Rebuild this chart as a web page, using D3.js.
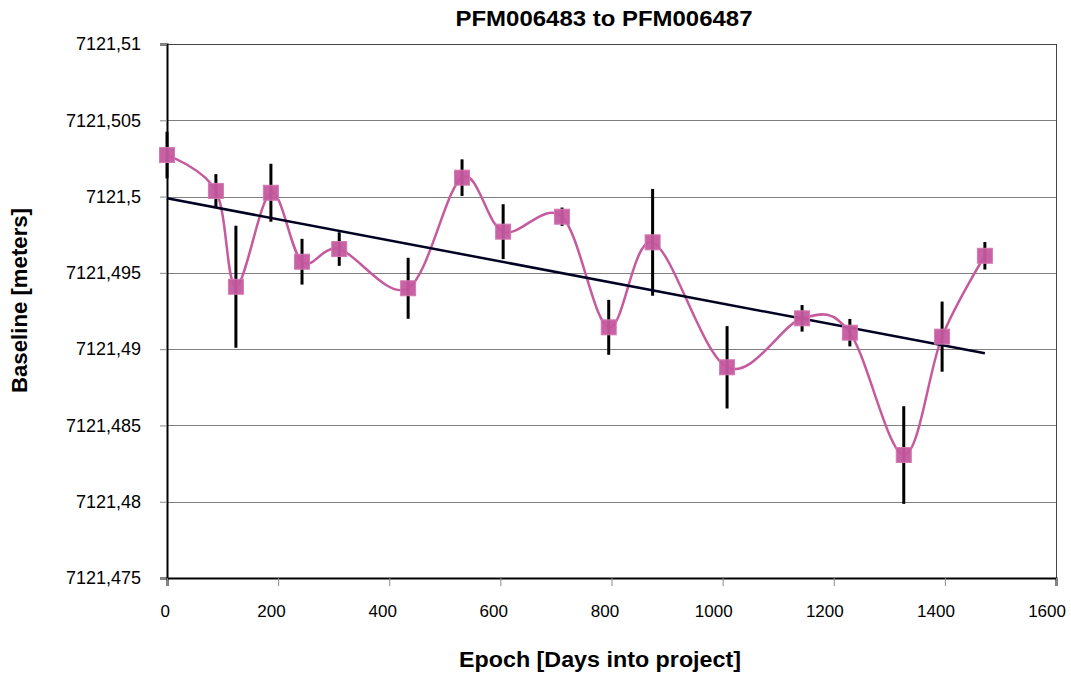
<!DOCTYPE html>
<html>
<head>
<meta charset="utf-8">
<script src="https://cdn.jsdelivr.net/npm/d3@7/dist/d3.min.js"></script>
<style>
  html, body { margin: 0; padding: 0; background: #fff; }
  svg { display: block; }
  text { font-family: "Liberation Sans", Arial, sans-serif; fill: #000; }
</style>
</head>
<body>
<script>
// Epoch of each measurement, days into project
const epochDays = [0, 88, 124, 187, 243, 310, 434, 531, 605, 711, 795, 874, 1008, 1143, 1229, 1326, 1395, 1472];
// Measured baseline length, metres
const baseline = [7121.50272, 7121.50037, 7121.49409, 7121.50025, 7121.49573, 7121.49656, 7121.49399, 7121.50124,
                  7121.49770, 7121.49868, 7121.49143, 7121.49700, 7121.48881, 7121.49202, 7121.49108, 7121.48306,
                  7121.49082, 7121.49612];
// One-sigma uncertainty of each measurement, metres
const sigma = [0.00153, 0.0011, 0.0040, 0.0019, 0.0015, 0.0011, 0.0020, 0.0012, 0.0018, 0.0006, 0.0018, 0.0035,
               0.0027, 0.00087, 0.0009, 0.0032, 0.0023, 0.0009];
// Linear trend, value at first and last epoch
const trendEnds = [7121.49989, 7121.48973];

const xTicks = [0, 200, 400, 600, 800, 1000, 1200, 1400, 1600];
const yTicks = [7121.475, 7121.48, 7121.485, 7121.49, 7121.495, 7121.5, 7121.505, 7121.51];
const titleText = "PFM006483 to PFM006487";
const xTitle = "Epoch [Days into project]";
const yTitle = "Baseline [meters]";

const W = 1071, H = 677;
const m = { left: 167, right: 1056, top: 44, bottom: 578 };

const svg = d3.select("body").append("svg").attr("width", W).attr("height", H);

const x = d3.scaleLinear().domain([0, 1600]).range([m.left, m.right]);
const y = d3.scaleLinear().domain([7121.475, 7121.51]).range([m.bottom, m.top]);

// decimal comma, trailing zeros dropped
const fmt = v => {
  let s = d3.format(".3f")(v).replace(/0+$/, "").replace(/\.$/, "");
  return s.replace(".", ",");
};

// horizontal gridlines
svg.append("g").selectAll("line")
  .data(yTicks.filter(t => t > 7121.475 && t < 7121.51))
  .join("line")
  .attr("x1", m.left).attr("x2", m.right)
  .attr("y1", d => Math.round(y(d)) + 0.5).attr("y2", d => Math.round(y(d)) + 0.5)
  .attr("stroke", "#7f7f7f").attr("stroke-width", 1);

// plot frame: top/right thin, left/bottom axes black
svg.append("line").attr("x1", m.left).attr("x2", m.right).attr("y1", m.top + 0.5).attr("y2", m.top + 0.5)
  .attr("stroke", "#444").attr("stroke-width", 1);
svg.append("line").attr("x1", m.right + 0.5).attr("x2", m.right + 0.5).attr("y1", m.top).attr("y2", m.bottom)
  .attr("stroke", "#444").attr("stroke-width", 1);

// y axis
const yAxis = svg.append("g").attr("transform", `translate(${m.left},0)`)
  .call(d3.axisLeft(y).tickValues(yTicks).tickFormat(fmt).tickSize(7).tickPadding(19));
yAxis.select(".domain").attr("stroke", "#000").attr("stroke-width", 2);
yAxis.selectAll(".tick line").attr("stroke", "#888");
yAxis.selectAll(".tick text").attr("font-size", 18).attr("font-family", "Liberation Sans, Arial, sans-serif");

// x axis
const xAxis = svg.append("g").attr("transform", `translate(0,${m.bottom})`)
  .call(d3.axisBottom(x).tickValues(xTicks).tickFormat(d3.format("d")).tickSize(8).tickPadding(19));
xAxis.select(".domain").attr("stroke", "#000").attr("stroke-width", 2);
xAxis.selectAll(".tick line").attr("stroke", "#888");
xAxis.selectAll(".tick text").attr("font-size", 17).attr("font-family", "Liberation Sans, Arial, sans-serif")
  .attr("dx", function () { return -this.getComputedTextLength() / 4; });

const pts = epochDays.map((d, i) => ({ d, v: baseline[i], s: sigma[i] }));
const color = "#c55a9f";

// smoothed connecting line
svg.append("path")
  .datum(pts)
  .attr("d", d3.line().x(p => x(p.d)).y(p => y(p.v)).curve(d3.curveCardinal.tension(0)))
  .attr("fill", "none").attr("stroke", color).attr("stroke-width", 2.5);

// error bars
svg.append("g").selectAll("line")
  .data(pts)
  .join("line")
  .attr("x1", p => x(p.d)).attr("x2", p => x(p.d))
  .attr("y1", p => y(p.v + p.s)).attr("y2", p => y(p.v - p.s))
  .attr("stroke", "#000").attr("stroke-width", 3);

// linear trend
const last = epochDays[epochDays.length - 1];
svg.append("line")
  .attr("x1", x(0)).attr("y1", y(trendEnds[0]))
  .attr("x2", x(last)).attr("y2", y(trendEnds[1]))
  .attr("stroke", "#000022").attr("stroke-width", 2.5);

// square markers
const ms = 15;
svg.append("g").selectAll("rect")
  .data(pts)
  .join("rect")
  .attr("x", p => x(p.d) - ms / 2).attr("y", p => y(p.v) - ms / 2)
  .attr("width", ms).attr("height", ms)
  .attr("fill", color).attr("fill-opacity", 0.95)
  .attr("stroke", "#d27ab2").attr("stroke-width", 1);

// titles
svg.append("text").attr("x", 604).attr("y", 26)
  .attr("text-anchor", "middle").attr("font-size", 22).attr("font-weight", "bold")
  .attr("textLength", 297).attr("lengthAdjust", "spacingAndGlyphs").text(titleText);
svg.append("text").attr("x", 600).attr("y", 667)
  .attr("text-anchor", "middle").attr("font-size", 22).attr("font-weight", "bold")
  .attr("textLength", 282).attr("lengthAdjust", "spacingAndGlyphs").text(xTitle);
svg.append("text").attr("transform", "translate(27,300.5) rotate(-90)")
  .attr("text-anchor", "middle").attr("font-size", 22).attr("font-weight", "bold")
  .attr("textLength", 185).attr("lengthAdjust", "spacingAndGlyphs").text(yTitle);
</script>
</body>
</html>
